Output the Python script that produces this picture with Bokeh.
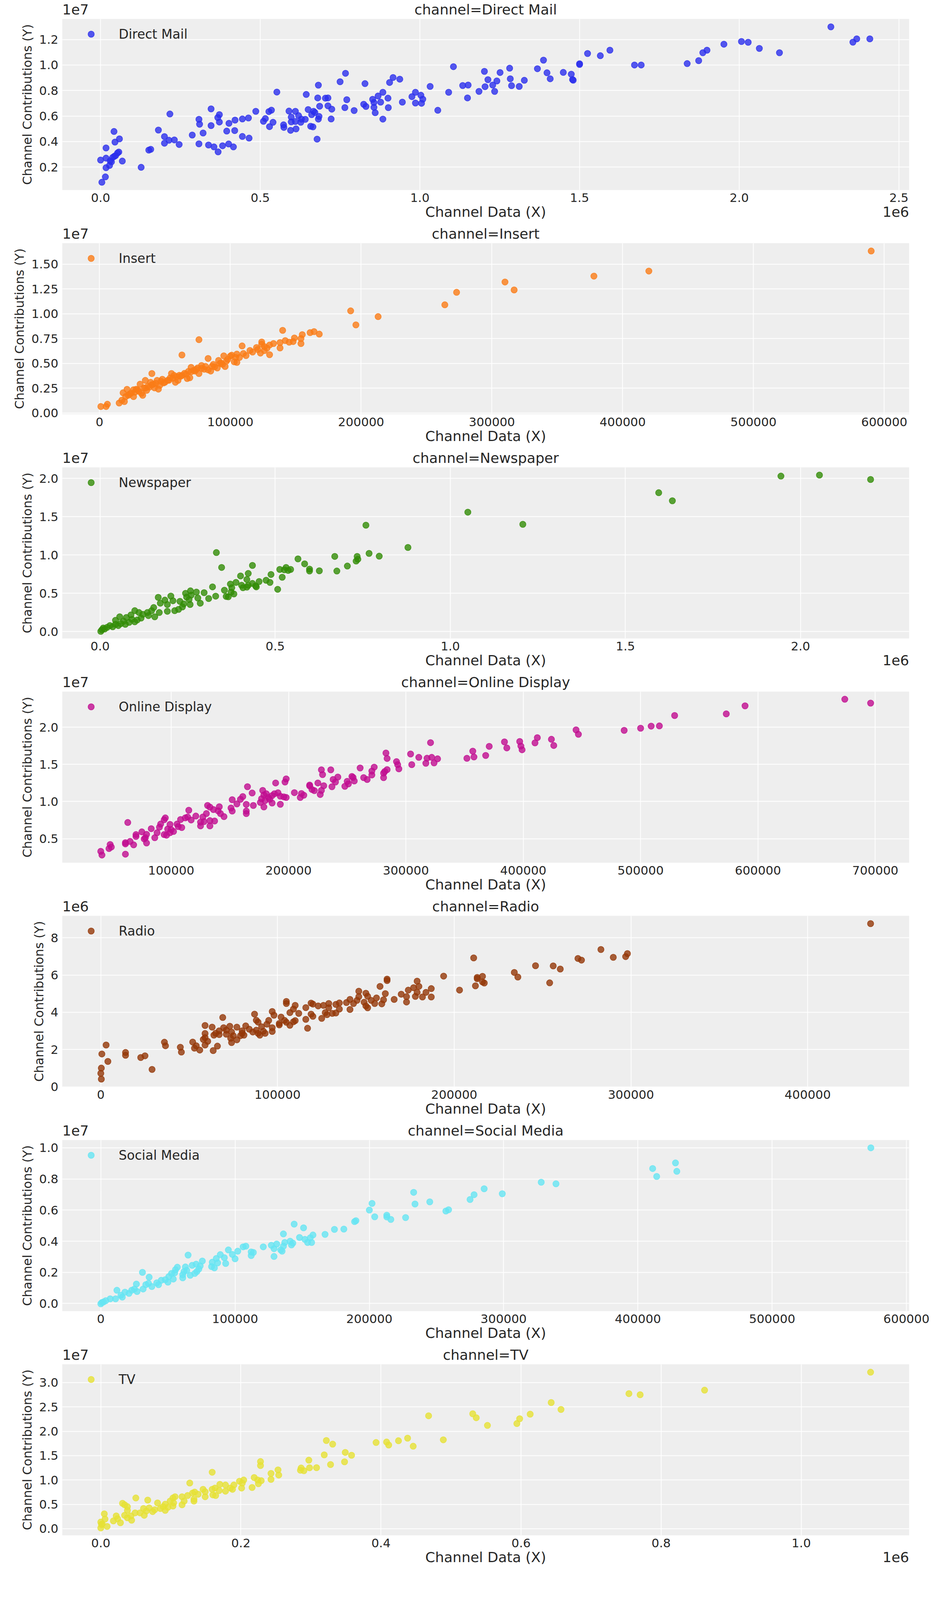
from bokeh.plotting import figure
from bokeh.models import FixedTicker, LinearAxis
from bokeh.layouts import column
from bokeh.embed import file_html
from bokeh.resources import INLINE

# ---------------- data ----------------
CHANNELS = ["Direct Mail", "Insert", "Newspaper", "Online Display", "Radio", "Social Media", "TV"]
COLORS = ["#2a2eec", "#fa7c17", "#328c06", "#c10c90", "#933708", "#65e5f3", "#e6e135"]

# units in which the pairs below are written
X_UNIT = [1e6, 1e3, 1e6, 1e3, 1e3, 1e3, 1e6]
Y_UNIT = [1e7, 1e7, 1e7, 1e7, 1e6, 1e7, 1e7]

# (channel data, channel contribution)
DIRECT_MAIL = [
    (2.287, 1.299), (2.409, 1.205), (2.368, 1.205), (2.356, 1.179), (2.007, 1.184), (2.028, 1.178),
    (1.952, 1.163), (2.063, 1.13), (2.126, 1.096), (1.899, 1.116), (1.886, 1.096), (1.873, 1.034),
    (1.837, 1.011), (1.672, 1.0), (1.693, 1.0), (1.595, 1.116), (1.525, 1.09), (1.565, 1.073),
    (1.5, 1.01), (1.5, 1.004), (1.387, 1.038), (1.368, 0.971), (1.398, 0.939), (1.449, 0.942),
    (1.474, 0.928), (1.478, 0.886), (1.48, 0.881), (1.408, 0.892), (1.281, 0.975), (1.283, 0.892),
    (1.327, 0.88), (1.287, 0.838), (1.311, 0.832), (1.105, 0.987), (1.202, 0.95), (1.251, 0.941),
    (1.213, 0.885), (1.241, 0.875), (1.228, 0.843), (1.204, 0.83), (1.134, 0.839), (1.151, 0.843),
    (1.234, 0.793), (1.185, 0.793), (1.149, 0.742), (1.032, 0.832), (1.09, 0.786), (1.056, 0.645),
    (0.937, 0.889), (0.916, 0.902), (0.905, 0.863), (0.828, 0.854), (0.75, 0.869), (0.767, 0.935),
    (0.682, 0.842), (0.552, 0.788), (0.986, 0.786), (1.003, 0.763), (1.009, 0.732), (1.005, 0.7),
    (0.986, 0.702), (0.975, 0.752), (0.945, 0.709), (0.884, 0.786), (0.869, 0.757), (0.9, 0.74),
    (0.852, 0.731), (0.856, 0.706), (0.877, 0.709), (0.824, 0.692), (0.831, 0.675), (0.856, 0.668),
    (0.901, 0.666), (0.86, 0.626), (0.794, 0.643), (0.765, 0.666), (0.771, 0.728), (0.884, 0.576),
    (0.712, 0.742), (0.704, 0.74), (0.68, 0.742), (0.712, 0.68), (0.686, 0.677), (0.724, 0.654),
    (0.644, 0.769), (0.65, 0.651), (0.667, 0.637), (0.671, 0.628), (0.661, 0.611), (0.62, 0.603),
    (0.629, 0.576), (0.59, 0.639), (0.61, 0.637), (0.597, 0.592), (0.597, 0.554), (0.61, 0.557),
    (0.627, 0.551), (0.641, 0.574), (0.684, 0.597), (0.682, 0.576), (0.722, 0.577), (0.658, 0.52),
    (0.665, 0.515), (0.612, 0.499), (0.595, 0.488), (0.573, 0.531), (0.574, 0.511), (0.529, 0.517),
    (0.54, 0.551), (0.516, 0.58), (0.51, 0.559), (0.535, 0.646), (0.527, 0.635), (0.678, 0.419),
    (0.486, 0.637), (0.463, 0.585), (0.444, 0.577), (0.421, 0.568), (0.402, 0.543), (0.372, 0.611),
    (0.367, 0.588), (0.372, 0.553), (0.346, 0.656), (0.346, 0.525), (0.308, 0.574), (0.31, 0.536),
    (0.321, 0.467), (0.287, 0.451), (0.444, 0.44), (0.465, 0.427), (0.42, 0.486), (0.395, 0.482),
    (0.217, 0.616), (0.181, 0.49), (0.2, 0.439), (0.214, 0.41), (0.2, 0.387), (0.231, 0.413),
    (0.246, 0.377), (0.308, 0.382), (0.338, 0.373), (0.355, 0.358), (0.401, 0.381), (0.382, 0.367),
    (0.416, 0.358), (0.368, 0.319), (0.151, 0.333), (0.157, 0.339), (0.127, 0.198), (0.042, 0.479),
    (0.059, 0.421), (0.045, 0.396), (0.017, 0.35), (0.057, 0.318), (0.053, 0.31), (0.043, 0.284),
    (0.038, 0.276), (0.03, 0.249), (0.068, 0.247), (0.017, 0.27), (0.0, 0.255), (0.028, 0.213),
    (0.017, 0.195), (0.015, 0.123), (0.004, 0.081), (0.034, 0.241), (0.047, 0.29),
]

INSERT = [
    (590, 1.632), (420, 1.43), (378, 1.379), (310, 1.32), (317, 1.24), (273, 1.216), (264, 1.09),
    (192, 1.029), (213, 0.971), (196, 0.888), (140, 0.833), (76, 0.739), (161, 0.81), (164, 0.82),
    (168, 0.795), (155, 0.79), (149, 0.756), (154, 0.75), (142, 0.73), (138, 0.71), (145, 0.714),
    (148, 0.72), (154, 0.70), (124, 0.716), (130, 0.685), (124, 0.694), (120, 0.66), (128, 0.654),
    (138, 0.656), (109, 0.676), (126, 0.629), (123, 0.604), (117, 0.614), (130, 0.588), (112, 0.579),
    (105, 0.594), (101, 0.583), (95, 0.576), (100, 0.573), (107, 0.56), (63, 0.585), (83, 0.55),
    (97, 0.523), (103, 0.516), (105, 0.51), (93, 0.504), (94, 0.491), (96, 0.469), (90, 0.454),
    (88, 0.466), (78, 0.479), (70, 0.46), (75, 0.454), (80, 0.441), (85, 0.423), (83, 0.435),
    (73, 0.423), (76, 0.398), (70, 0.416), (66, 0.391), (63, 0.379), (69, 0.356), (67, 0.348),
    (59, 0.366), (55, 0.398), (57, 0.379), (60, 0.329), (58, 0.31), (54, 0.354), (52, 0.329),
    (40, 0.398), (49, 0.304), (46, 0.279), (44, 0.329), (42, 0.254), (45, 0.241), (40, 0.285),
    (38, 0.26), (35, 0.329), (36, 0.229), (31, 0.291), (34, 0.254), (29, 0.235), (32, 0.198),
    (33, 0.179), (27, 0.21), (26, 0.166), (26, 0.235), (23, 0.191), (21, 0.239), (18, 0.204),
    (20, 0.166), (17, 0.129), (19, 0.116), (15, 0.101), (6, 0.089), (5, 0.066), (1, 0.066),
    (50, 0.31), (53, 0.33), (56, 0.35), (62, 0.37), (65, 0.40), (72, 0.43), (78, 0.45), (86, 0.47),
    (92, 0.5), (98, 0.54), (104, 0.56), (110, 0.6), (115, 0.63), (121, 0.64), (126, 0.67), (133, 0.7),
    (30, 0.22), (35, 0.25), (37, 0.27), (41, 0.29), (43, 0.3), (47, 0.32), (24, 0.2), (28, 0.24),
    (22, 0.18), (39, 0.31), (48, 0.34), (61, 0.38), (68, 0.42), (74, 0.44), (81, 0.47), (87, 0.49),
    (91, 0.53),
]

NEWSPAPER = [
    (1.944, 2.031), (2.054, 2.044), (2.2, 1.987), (1.595, 1.814), (1.634, 1.709), (1.05, 1.56),
    (1.207, 1.401), (0.759, 1.39), (0.879, 1.099), (0.332, 1.032), (0.513, 0.812), (0.526, 0.807),
    (0.531, 0.838), (0.537, 0.799), (0.544, 0.812), (0.565, 0.95), (0.584, 0.885), (0.598, 0.816),
    (0.598, 0.791), (0.626, 0.794), (0.676, 0.791), (0.706, 0.856), (0.67, 0.982), (0.731, 0.921),
    (0.736, 0.945), (0.734, 0.982), (0.768, 1.021), (0.797, 0.985),
    (0.286, 0.371), (0.31, 0.432), (0.279, 0.438), (0.254, 0.419), (0.247, 0.451), (0.26, 0.476),
    (0.244, 0.5), (0.297, 0.508), (0.275, 0.516), (0.258, 0.532), (0.321, 0.584), (0.33, 0.463),
    (0.355, 0.54), (0.366, 0.455), (0.36, 0.459), (0.382, 0.492), (0.374, 0.516), (0.376, 0.573),
    (0.372, 0.621), (0.388, 0.642), (0.404, 0.605), (0.408, 0.573), (0.419, 0.581), (0.423, 0.605),
    (0.435, 0.629), (0.446, 0.584), (0.444, 0.597), (0.454, 0.654), (0.474, 0.67), (0.485, 0.642),
    (0.507, 0.552), (0.401, 0.727), (0.419, 0.681), (0.423, 0.759), (0.435, 0.864), (0.347, 0.838),
    (0.488, 0.746), (0.52, 0.71),
    (0.166, 0.447), (0.202, 0.464), (0.185, 0.411), (0.208, 0.403), (0.172, 0.371), (0.192, 0.354),
    (0.228, 0.395), (0.239, 0.362), (0.257, 0.354), (0.235, 0.322), (0.224, 0.29), (0.213, 0.273),
    (0.192, 0.265), (0.169, 0.249), (0.153, 0.314), (0.147, 0.273), (0.135, 0.249), (0.099, 0.273),
    (0.111, 0.249), (0.122, 0.225), (0.138, 0.209), (0.156, 0.193), (0.117, 0.176), (0.106, 0.152),
    (0.091, 0.16), (0.088, 0.217), (0.075, 0.184), (0.056, 0.193), (0.044, 0.147), (0.067, 0.136),
    (0.083, 0.12), (0.059, 0.104), (0.044, 0.095), (0.028, 0.079), (0.02, 0.055), (0.009, 0.047),
    (0.005, 0.023), (0.002, 0.003), (0.013, 0.034), (0.036, 0.063), (0.052, 0.079), (0.072, 0.095),
    (0.099, 0.128),
]

ONLINE_DISPLAY = [
    (674, 2.377), (696, 2.325), (589, 2.288), (573, 2.18), (529, 2.158), (516, 2.018), (509, 2.015),
    (500, 1.987), (486, 1.958), (445, 1.965), (447, 1.905), (412, 1.86), (424, 1.838), (410, 1.79),
    (426, 1.755), (397, 1.808), (398, 1.747), (399, 1.697), (384, 1.803), (386, 1.722), (371, 1.743),
    (321, 1.793), (357, 1.678), (358, 1.6), (368, 1.62), (352, 1.582), (283, 1.653), (304, 1.64),
    (284, 1.58), (311, 1.595), (322, 1.595), (327, 1.575), (318, 1.583), (292, 1.537), (293, 1.497),
    (305, 1.497), (317, 1.515), (324, 1.52), (294, 1.44), (261, 1.452), (273, 1.463), (271, 1.41),
    (271, 1.358), (282, 1.405), (281, 1.383), (284, 1.43), (281, 1.322), (228, 1.427), (236, 1.427),
    (229, 1.363), (242, 1.33), (238, 1.297), (240, 1.263), (254, 1.338), (255, 1.325), (264, 1.322),
    (267, 1.297), (256, 1.277), (250, 1.272), (251, 1.238), (248, 1.205), (237, 1.2), (230, 1.213),
    (198, 1.305), (197, 1.263), (189, 1.25), (225, 1.25), (218, 1.222), (218, 1.21), (220, 1.162),
    (222, 1.147), (228, 1.15), (227, 1.095), (205, 1.12), (211, 1.108), (213, 1.085), (210, 1.055),
    (165, 1.2), (178, 1.15), (169, 1.115), (161, 1.067), (152, 1.025), (159, 1.03), (156, 0.968),
    (179, 1.088), (181, 1.105), (188, 1.105), (191, 1.118), (186, 1.08), (193, 1.072), (196, 1.063),
    (198, 1.055), (183, 1.055), (177, 1.038), (184, 1.03), (180, 1.013), (176, 0.988), (186, 0.98),
    (193, 0.963), (179, 0.927), (170, 0.947), (164, 0.962), (131, 0.947), (133, 0.925), (141, 0.93),
    (136, 0.892), (140, 0.875), (142, 0.838), (145, 0.797), (151, 0.913), (152, 0.872), (164, 0.872),
    (164, 0.838), (115, 0.883), (130, 0.838), (121, 0.805), (127, 0.792), (114, 0.792), (112, 0.78),
    (117, 0.752), (108, 0.758), (133, 0.743), (137, 0.738), (125, 0.722), (128, 0.73), (125, 0.672),
    (133, 0.672), (95, 0.78), (94, 0.755), (91, 0.697), (99, 0.692), (105, 0.697), (106, 0.663),
    (109, 0.65), (90, 0.655), (83, 0.635), (97, 0.63), (100, 0.622), (102, 0.597), (99, 0.58),
    (94, 0.555), (96, 0.547), (88, 0.58), (86, 0.513), (79, 0.558), (75, 0.592), (70, 0.555),
    (70, 0.53), (78, 0.513), (77, 0.497), (79, 0.442), (63, 0.718), (61, 0.447), (65, 0.463),
    (68, 0.417), (61, 0.43), (48, 0.422), (49, 0.388), (47, 0.367), (40, 0.33), (41, 0.28), (61, 0.292),
]

RADIO = [
    (435.6, 8.76), (283, 7.37), (298, 7.15), (297, 6.99), (290, 6.95), (270, 6.89), (272, 6.8),
    (211, 6.92), (246, 6.5), (256, 6.49), (260, 6.32), (234, 6.14), (236, 5.89), (254, 5.58),
    (194, 5.94), (213, 5.87), (216, 5.93), (213, 5.8), (216, 5.63), (217, 5.57), (212, 5.42),
    (203, 5.19), (162, 5.78), (162, 5.7), (179, 5.67), (158, 5.39), (180, 5.39), (187, 5.27),
    (177, 5.32), (174, 5.19), (179, 5.07), (184, 5.07), (161, 5.0), (170, 4.97), (173, 4.84),
    (178, 4.85), (182, 4.82), (187, 4.82), (146, 5.13), (150, 5.02), (146, 4.84), (151, 4.86),
    (141, 4.69), (145, 4.64), (156, 4.77), (160, 4.67), (166, 4.69), (173, 4.55), (153, 4.64),
    (149, 4.54), (155, 4.47), (159, 4.45), (150, 4.34), (151, 4.24), (143, 4.47), (139, 4.52),
    (135, 4.5), (133, 4.42), (129, 4.47), (126, 4.37), (123, 4.34), (119, 4.49), (120, 4.44),
    (116, 4.25), (129, 4.24), (135, 4.17), (141, 4.15), (105, 4.58), (105, 4.47), (110, 4.37),
    (109, 4.17), (107, 3.98), (112, 3.94), (119, 3.9), (120, 3.78), (116, 3.62), (125, 3.67),
    (127, 3.98), (131, 3.94), (133, 3.96), (128, 3.87), (87, 3.9), (97, 4.04), (98, 3.84),
    (102, 3.74), (104, 3.56), (105, 3.46), (110, 3.55), (109, 3.49), (101, 3.4), (101, 3.32),
    (107, 3.3), (117, 3.14), (69, 3.72), (88, 3.57), (89, 3.47), (95, 3.56), (94, 3.36), (91, 3.22),
    (97, 3.17), (82, 3.27), (77, 3.2), (73, 3.25), (69.5, 3.17), (63, 3.2), (59, 3.29), (67, 3.0),
    (71, 3.04), (80, 3.0), (84, 3.09), (88, 3.04), (92, 2.98), (97, 2.97), (89, 2.87), (93, 2.87),
    (90, 2.77), (86, 2.94), (65, 2.87), (64, 2.77), (67, 2.8), (71, 2.82), (74, 2.94), (75, 2.74),
    (73.5, 2.6), (77, 2.52), (80, 2.87), (81, 2.77), (79, 2.74), (74, 2.37), (59, 2.86), (59, 2.64),
    (60.5, 2.44), (58, 2.54), (59, 2.24), (66, 2.18), (63.6, 1.94), (52, 2.4), (54, 2.2), (53, 2.07),
    (56, 1.97), (36, 2.39), (36.6, 2.2), (45, 2.12), (45.6, 1.86), (3, 2.24), (0.6, 1.76), (4, 1.36),
    (14, 1.84), (14, 1.69), (25, 1.66), (22.6, 1.57), (29, 0.93), (0.3, 1.0), (0, 0.72), (0.3, 0.41),
]

SOCIAL_MEDIA = [
    (573.5, 1.0), (428, 0.903), (411, 0.867), (429, 0.849), (414, 0.816), (328, 0.779), (339, 0.769),
    (285.5, 0.737), (278, 0.699), (299, 0.705), (275, 0.668), (233, 0.714), (234, 0.639), (245, 0.653),
    (202, 0.643), (200, 0.6), (259, 0.602), (257, 0.594), (204, 0.557), (213, 0.567), (213, 0.556),
    (216, 0.54), (227, 0.552), (190, 0.532), (189, 0.526), (174, 0.476), (181, 0.478), (167, 0.444),
    (144, 0.51), (151, 0.486), (136, 0.447), (158, 0.44), (148, 0.424), (152, 0.412), (156, 0.422),
    (154, 0.392), (157, 0.392), (141, 0.4), (143, 0.388), (137, 0.392), (142, 0.376), (136, 0.368),
    (121, 0.364), (127, 0.374), (131, 0.382), (129, 0.352), (134, 0.344), (135, 0.336), (129, 0.302),
    (106, 0.364), (108, 0.368), (95, 0.344), (102, 0.336), (112, 0.331), (113.6, 0.328), (112, 0.308),
    (65, 0.311), (89, 0.314), (98, 0.315), (92, 0.294), (100, 0.287), (86, 0.289), (75.6, 0.273),
    (83, 0.265), (87, 0.261), (93, 0.257), (82.5, 0.237), (84.6, 0.229), (71, 0.253), (68, 0.245),
    (63, 0.235), (57, 0.233), (55.6, 0.217), (74, 0.241), (73, 0.221), (64, 0.213), (62, 0.205),
    (71.5, 0.205), (70, 0.193), (66.6, 0.181), (61, 0.185), (55, 0.197), (52.7, 0.193), (50.7, 0.173),
    (61, 0.165), (31, 0.2), (36, 0.169), (54, 0.157), (48, 0.153), (45, 0.149), (50, 0.137),
    (41.7, 0.133), (43, 0.121), (35.5, 0.129), (33.5, 0.121), (38, 0.109), (31.5, 0.093), (26.5, 0.125),
    (25, 0.093), (21, 0.065), (18, 0.073), (12, 0.085), (27, 0.077), (23, 0.085), (15, 0.053),
    (11, 0.03), (16, 0.041), (7, 0.03), (3.7, 0.018), (0.8, 0.006), (0, -0.002), (2, 0.01),
]

TV = [
    (1.099, 3.213), (0.862, 2.844), (0.754, 2.773), (0.77, 2.75), (0.643, 2.59), (0.657, 2.448),
    (0.613, 2.351), (0.598, 2.257), (0.594, 2.158), (0.531, 2.359), (0.536, 2.278), (0.552, 2.12),
    (0.468, 2.318), (0.489, 1.825), (0.438, 1.858), (0.425, 1.805), (0.408, 1.779), (0.411, 1.718),
    (0.393, 1.769), (0.446, 1.693), (0.322, 1.81), (0.331, 1.736), (0.349, 1.566), (0.358, 1.507),
    (0.319, 1.515), (0.297, 1.406), (0.348, 1.373), (0.328, 1.317), (0.308, 1.253), (0.298, 1.251),
    (0.286, 1.246), (0.285, 1.2), (0.29, 1.19), (0.228, 1.378), (0.228, 1.296), (0.253, 1.207),
    (0.243, 1.134), (0.254, 1.101), (0.243, 1.012), (0.159, 1.159), (0.219, 1.05), (0.224, 0.999),
    (0.229, 0.986), (0.225, 0.923), (0.204, 0.999), (0.198, 0.974), (0.202, 0.935), (0.216, 0.846),
    (0.201, 0.834), (0.19, 0.897), (0.188, 0.808), (0.178, 0.897), (0.17, 0.91), (0.185, 0.834),
    (0.127, 0.938), (0.163, 0.834), (0.178, 0.77), (0.169, 0.783), (0.159, 0.808), (0.146, 0.808),
    (0.149, 0.757), (0.134, 0.752), (0.131, 0.732), (0.139, 0.707), (0.164, 0.681), (0.16, 0.694),
    (0.149, 0.656), (0.124, 0.681), (0.116, 0.656), (0.133, 0.605), (0.133, 0.567), (0.119, 0.567),
    (0.116, 0.491), (0.106, 0.656), (0.103, 0.63), (0.099, 0.567), (0.104, 0.529), (0.103, 0.465),
    (0.092, 0.503), (0.096, 0.44), (0.05, 0.63), (0.067, 0.587), (0.081, 0.529), (0.031, 0.521),
    (0.034, 0.491), (0.038, 0.452), (0.038, 0.376), (0.061, 0.414), (0.069, 0.427), (0.077, 0.389),
    (0.089, 0.452), (0.092, 0.376), (0.085, 0.414), (0.074, 0.351), (0.065, 0.363), (0.056, 0.325),
    (0.049, 0.325), (0.062, 0.275), (0.043, 0.262), (0.034, 0.275), (0.038, 0.224), (0.024, 0.203),
    (0.022, 0.262), (0.005, 0.305), (0.006, 0.198), (0.018, 0.16), (0.028, 0.122), (0.044, 0.173),
    (0.0, 0.135), (0.001, 0.084), (0.009, 0.046), (0.0, 0.015), (0.002, 0.097),
]

SERIES = [DIRECT_MAIL, INSERT, NEWSPAPER, ONLINE_DISPLAY, RADIO, SOCIAL_MEDIA, TV]

# axis ranges (real units)
X_RANGES = [(-0.12e6, 2.532e6), (-28.5e3, 619e3), (-0.108e6, 2.31e6), (7.2e3, 728.8e3),
            (-21.8e3, 457.4e3), (-28.7e3, 602e3), (-0.055e6, 1.154e6)]
Y_RANGES = [(0.02e7, 1.361e7), (-0.012e7, 1.711e7), (-0.09e7, 2.145e7), (0.177e7, 2.48e7),
            (-0.01e6, 9.18e6), (-0.049e7, 1.05e7), (-0.137e7, 3.376e7)]

# ticks
X_TICKS = [[0, 0.5e6, 1.0e6, 1.5e6, 2.0e6, 2.5e6],
           [0, 100000, 200000, 300000, 400000, 500000, 600000],
           [0, 0.5e6, 1.0e6, 1.5e6, 2.0e6],
           [100000, 200000, 300000, 400000, 500000, 600000, 700000],
           [0, 100000, 200000, 300000, 400000],
           [0, 100000, 200000, 300000, 400000, 500000, 600000],
           [0, 0.2e6, 0.4e6, 0.6e6, 0.8e6, 1.0e6]]
X_TICK_LABELS = [["0.0", "0.5", "1.0", "1.5", "2.0", "2.5"],
                 ["0", "100000", "200000", "300000", "400000", "500000", "600000"],
                 ["0.0", "0.5", "1.0", "1.5", "2.0"],
                 ["100000", "200000", "300000", "400000", "500000", "600000", "700000"],
                 ["0", "100000", "200000", "300000", "400000"],
                 ["0", "100000", "200000", "300000", "400000", "500000", "600000"],
                 ["0.0", "0.2", "0.4", "0.6", "0.8", "1.0"]]
Y_TICKS = [[0.2e7, 0.4e7, 0.6e7, 0.8e7, 1.0e7, 1.2e7],
           [0, 0.25e7, 0.5e7, 0.75e7, 1.0e7, 1.25e7, 1.5e7],
           [0, 0.5e7, 1.0e7, 1.5e7, 2.0e7],
           [0.5e7, 1.0e7, 1.5e7, 2.0e7],
           [0, 2e6, 4e6, 6e6, 8e6],
           [0, 0.2e7, 0.4e7, 0.6e7, 0.8e7, 1.0e7],
           [0, 0.5e7, 1.0e7, 1.5e7, 2.0e7, 2.5e7, 3.0e7]]
Y_TICK_LABELS = [["0.2", "0.4", "0.6", "0.8", "1.0", "1.2"],
                 ["0.00", "0.25", "0.50", "0.75", "1.00", "1.25", "1.50"],
                 ["0.0", "0.5", "1.0", "1.5", "2.0"],
                 ["0.5", "1.0", "1.5", "2.0"],
                 ["0", "2", "4", "6", "8"],
                 ["0.0", "0.2", "0.4", "0.6", "0.8", "1.0"],
                 ["0.0", "0.5", "1.0", "1.5", "2.0", "2.5", "3.0"]]
X_OFFSET_TEXT = ["1e6", "", "1e6", "", "", "", "1e6"]
Y_OFFSET_TEXT = ["1e7", "1e7", "1e7", "1e7", "1e6", "1e7", "1e7"]

X_LABEL = "Channel Data (X)"
Y_LABEL = "Channel Contributions (Y)"

# ---------------- styling / layout ----------------
FONT = "DejaVu Sans"
TEXT_COLOR = "#262626"
FIG_W, FIG_H = 2407, 574          # seven panels stacked: 7 * 574 = 4018 px
BORDER_L, BORDER_R, BORDER_T, BORDER_B = 159, 79, 48, 88
FRAME_W = FIG_W - BORDER_L - BORDER_R
TICK_FS, LABEL_FS, YLABEL_FS, TOP_FS = "31px", "36px", "32px", "36px"
OFFSET_HALF_W = 34                # half width of a "1e6"/"1e7" text at 36px


def style_axis(ax, font_size, label_size):
    ax.axis_line_color = None
    ax.major_tick_line_color = None
    ax.minor_tick_line_color = None
    ax.major_tick_out = 0
    ax.major_tick_in = 0
    ax.minor_tick_out = 0
    ax.minor_tick_in = 0
    ax.major_label_text_font = FONT
    ax.major_label_text_font_size = font_size
    ax.major_label_text_color = TEXT_COLOR
    ax.axis_label_text_font = FONT
    ax.axis_label_text_font_size = label_size
    ax.axis_label_text_font_style = "normal"
    ax.axis_label_text_color = TEXT_COLOR


def text_row(x0, x1, centre_text, left_text=None, right_text=None):
    """tick positions + labels for a row of texts placed on an extra axis"""
    mid = (x0 + x1) / 2.0
    ticks, labels = [mid], {mid: centre_text}
    if left_text:
        pos = x0 + OFFSET_HALF_W / FRAME_W * (x1 - x0)
        ticks.append(pos)
        labels[pos] = left_text
    if right_text:
        pos = x1 - OFFSET_HALF_W / FRAME_W * (x1 - x0)
        ticks.append(pos)
        labels[pos] = right_text
    return ticks, labels


figs = []
for i, name in enumerate(CHANNELS):
    xs = [a * X_UNIT[i] for a, b in SERIES[i]]
    ys = [b * Y_UNIT[i] for a, b in SERIES[i]]
    p = figure(width=FIG_W, height=FIG_H, title=None,
               x_range=X_RANGES[i], y_range=Y_RANGES[i],
               output_backend="svg", toolbar_location=None,
               min_border_left=BORDER_L, min_border_right=BORDER_R,
               min_border_top=BORDER_T, min_border_bottom=BORDER_B,
               background_fill_color="#eeeeee", border_fill_color="white",
               outline_line_color=None)
    main_x = p.below[0]
    main_y = p.left[0]
    p.scatter(xs, ys, size=16, fill_color=COLORS[i], line_color=COLORS[i],
              fill_alpha=0.8, line_alpha=0.8, line_width=1.5, legend_label=name)

    # main axes
    main_x.ticker = FixedTicker(ticks=X_TICKS[i])
    main_x.major_label_overrides = dict(zip(X_TICKS[i], X_TICK_LABELS[i]))
    main_y.ticker = FixedTicker(ticks=Y_TICKS[i])
    main_y.major_label_overrides = dict(zip(Y_TICKS[i], Y_TICK_LABELS[i]))
    main_y.axis_label = Y_LABEL
    style_axis(main_x, TICK_FS, LABEL_FS)
    style_axis(main_y, TICK_FS, YLABEL_FS)
    main_x.major_label_standoff = 8
    main_y.major_label_standoff = 10
    main_y.axis_label_standoff = 8
    p.xgrid.ticker = FixedTicker(ticks=X_TICKS[i])
    p.ygrid.ticker = FixedTicker(ticks=Y_TICKS[i])
    p.grid.grid_line_color = "white"
    p.grid.grid_line_width = 2

    x0, x1 = X_RANGES[i]

    # row above the frame: y offset text (left) and the channel title (centre)
    t_ticks, t_labels = text_row(x0, x1, "channel=" + name, left_text=Y_OFFSET_TEXT[i])
    top = LinearAxis(ticker=FixedTicker(ticks=t_ticks), major_label_overrides=t_labels)
    style_axis(top, TOP_FS, TOP_FS)
    top.major_label_standoff = 4
    p.add_layout(top, "above")

    # row under the x axis: axis title (centre) and the x offset text (right)
    b_ticks, b_labels = text_row(x0, x1, X_LABEL, right_text=X_OFFSET_TEXT[i])
    bottom = LinearAxis(ticker=FixedTicker(ticks=b_ticks), major_label_overrides=b_labels)
    style_axis(bottom, LABEL_FS, LABEL_FS)
    bottom.major_label_standoff = 2
    p.add_layout(bottom, "below")

    leg = p.legend[0]
    leg.location = (54, FIG_H - BORDER_T - BORDER_B - 19 - 40)
    leg.padding = 0
    leg.margin = 0
    leg.glyph_width = 40
    leg.glyph_height = 40
    leg.label_standoff = 51
    leg.label_text_font = FONT
    leg.label_text_font_size = "33px"
    leg.label_text_color = TEXT_COLOR
    leg.background_fill_alpha = 0
    leg.border_line_color = None
    figs.append(p)

layout = column(*figs, spacing=0)
open("out.html", "w").write(file_html(layout, INLINE))
